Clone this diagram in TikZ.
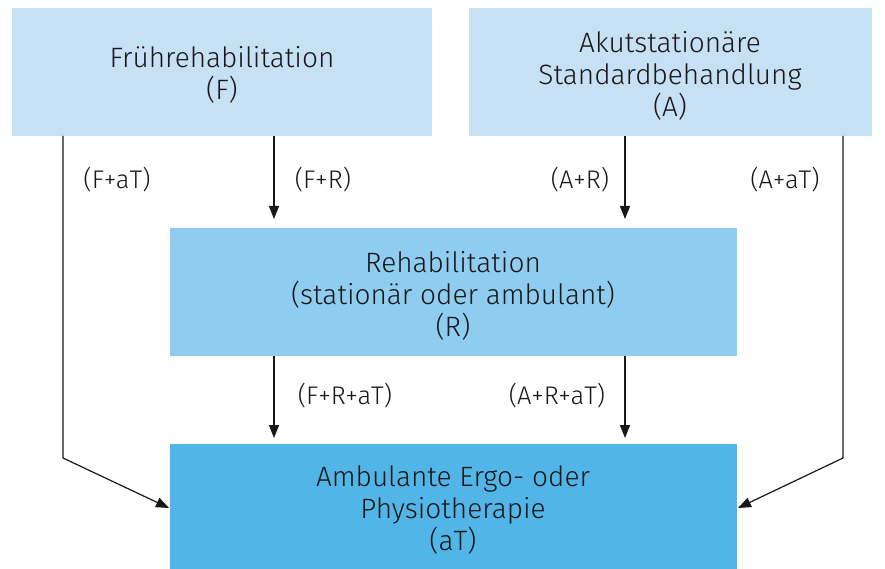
\documentclass[tikz,border=0pt]{standalone}
\usepackage{fontspec}
\setmainfont{Fira Sans Light}
\usetikzlibrary{arrows.meta}
\definecolor{boxA}{HTML}{C6E0F4}
\definecolor{boxB}{HTML}{8FCDF0}
\definecolor{boxC}{HTML}{52B5E7}
\definecolor{ink}{HTML}{1A1718}
\tikzset{
  box/.style={inner sep=0pt, align=center, font=\fontsize{28}{32}\selectfont, text=ink},
  conn/.style={draw=ink, line width=1.2pt, -{Triangle[length=13pt,width=10pt]}},
  lbl/.style={font=\fontsize{25.5}{28}\selectfont, text=ink, inner sep=0pt}
}
\begin{document}
\begin{tikzpicture}[x=1pt,y=-1pt]
\useasboundingbox (0,0) rectangle (885,569);
\fill[boxA] (12,8) rectangle (432,136);
\fill[boxA] (469,8) rectangle (872,136);
\fill[boxB] (170,228) rectangle (737,356);
\fill[boxC] (170,444) rectangle (737,569);
\node[box] (F) at (222,75) {Frührehabilitation\\(F)};
\node[box] (A) at (670,76) {Akutstationäre\\Standardbehandlung\\(A)};
\node[box] (R) at (453,296) {Rehabilitation\\(stationär oder ambulant)\\(R)};
\node[box] (T) at (453,510) {Ambulante Ergo- oder\\Physiotherapie\\(aT)};
\coordinate (f1) at (63,136);
\coordinate (f2) at (63,458);
\coordinate (f3) at (169,508);
\coordinate (a1) at (843,136);
\coordinate (a2) at (843,458);
\coordinate (a3) at (738,508);
\coordinate (fr1) at (274,136);
\coordinate (fr2) at (274,219);
\coordinate (ar1) at (625,136);
\coordinate (ar2) at (625,219);
\coordinate (rt1) at (274,356);
\coordinate (rt2) at (274,438);
\coordinate (rt3) at (625,356);
\coordinate (rt4) at (625,438);
\draw[conn] (f1) -- (f2) -- (f3);
\draw[conn] (a1) -- (a2) -- (a3);
\draw[conn] (fr1) -- (fr2);
\draw[conn] (ar1) -- (ar2);
\draw[conn] (rt1) -- (rt2);
\draw[conn] (rt3) -- (rt4);
\node[lbl] (l1) at (117,180) {(F+aT)};
\node[lbl] (l2) at (323,180) {(F+R)};
\node[lbl] (l3) at (580,180) {(A+R)};
\node[lbl] (l4) at (785,180) {(A+aT)};
\node[lbl] (l5) at (345,396) {(F+R+aT)};
\node[lbl] (l6) at (557,396) {(A+R+aT)};
\end{tikzpicture}
\end{document}
